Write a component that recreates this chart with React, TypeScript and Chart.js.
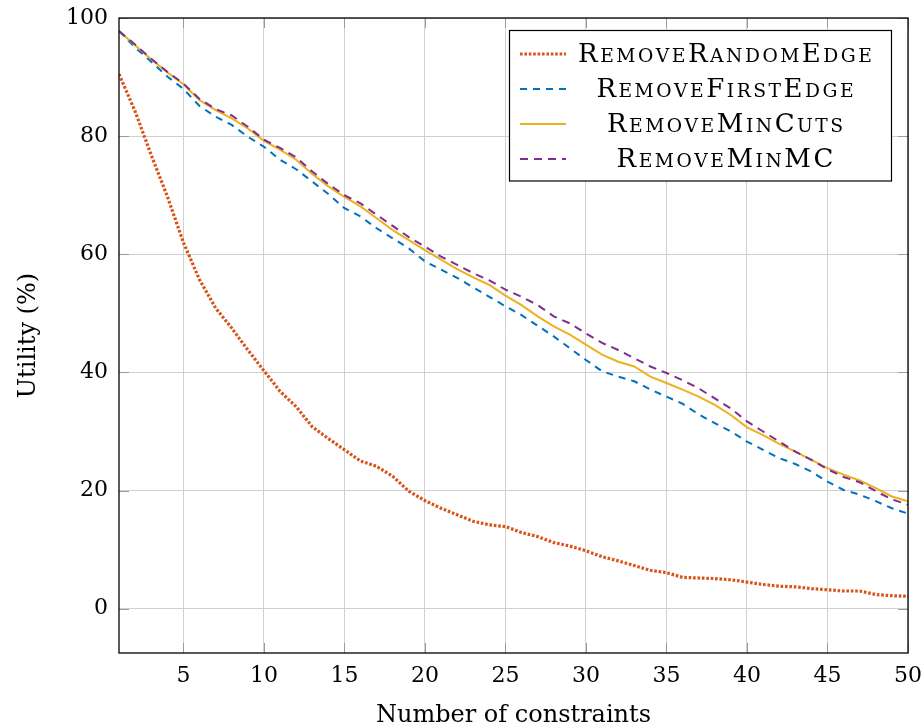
import React, { useEffect, useRef } from 'react';
import { Chart, registerables } from 'chart.js';

Chart.register(...registerables);

// ---------- data ----------
const constraints = [
  1, 2, 3, 4, 5, 6, 7, 8, 9, 10,
  11, 12, 13, 14, 15, 16, 17, 18, 19, 20,
  21, 22, 23, 24, 25, 26, 27, 28, 29, 30,
  31, 32, 33, 34, 35, 36, 37, 38, 39, 40,
  41, 42, 43, 44, 45, 46, 47, 48, 49, 50,
];

const removeRandomEdge = [
  90.5, 84.2, 76.8, 69.8, 62.0, 55.7, 50.9, 47.5, 43.8, 40.3,
  36.8, 34.2, 30.8, 28.8, 26.9, 25.0, 24.1, 22.4, 19.9, 18.3,
  17.0, 15.9, 14.8, 14.2, 13.9, 12.9, 12.2, 11.2, 10.6, 9.8,
  8.8, 8.1, 7.3, 6.5, 6.1, 5.3, 5.2, 5.1, 4.9, 4.5,
  4.1, 3.8, 3.7, 3.4, 3.2, 3.0, 3.0, 2.4, 2.2, 2.1,
];

const removeFirstEdge = [
  97.8, 95.0, 92.6, 90.1, 88.0, 85.1, 83.3, 81.9, 79.9, 78.2,
  76.0, 74.4, 72.3, 70.2, 67.8, 66.4, 64.4, 62.7, 61.0, 58.8,
  57.4, 56.0, 54.4, 52.8, 51.2, 49.7, 47.9, 46.1, 44.1, 42.1,
  40.2, 39.3, 38.5, 37.1, 35.9, 34.7, 32.9, 31.4, 30.0, 28.3,
  26.9, 25.5, 24.5, 23.2, 21.5, 20.1, 19.3, 18.2, 17.0, 16.1,
];

const removeMinCuts = [
  97.8, 95.4, 93.0, 90.8, 88.8, 86.1, 84.4, 83.0, 81.3, 79.2,
  77.7, 76.0, 73.6, 71.5, 69.7, 68.1, 66.1, 64.1, 62.4, 60.7,
  59.1, 57.5, 56.1, 54.8, 53.0, 51.4, 49.5, 47.8, 46.4, 44.7,
  43.0, 41.8, 41.0, 39.3, 38.2, 37.1, 35.9, 34.5, 32.8, 30.7,
  29.4, 27.9, 26.6, 25.2, 23.8, 22.7, 21.7, 20.4, 19.0, 18.2,
];

const removeMinMC = [
  97.8, 95.5, 93.1, 90.9, 88.9, 86.3, 84.6, 83.5, 81.6, 79.4,
  78.0, 76.4, 74.0, 71.9, 70.0, 68.6, 66.7, 64.8, 62.9, 61.3,
  59.6, 58.2, 56.8, 55.6, 54.0, 52.8, 51.4, 49.5, 48.3, 46.6,
  45.0, 43.8, 42.4, 41.0, 39.9, 38.7, 37.3, 35.6, 33.9, 31.7,
  30.0, 28.3, 26.6, 25.2, 23.6, 22.3, 21.4, 19.9, 18.5, 17.6,
];

const xTicks = [5, 10, 15, 20, 25, 30, 35, 40, 45, 50];
const yTicks = [0, 20, 40, 60, 80, 100];

const seriesNames = ['RemoveRandomEdge', 'RemoveFirstEdge', 'RemoveMinCuts', 'RemoveMinMC'];
const xTitle = 'Number of constraints';
const yTitle = 'Utility (%)';

// ---------- styles ----------
const COLORS = ['#D95319', '#0072BD', '#EDB120', '#7E2F8E'];
const WIDTHS = [3.2, 2, 2, 2];
const DASHES: number[][] = [[2.6, 1.8], [7, 6], [], [8, 6]];
const SERIF = '"DejaVu Serif", serif';

function toPoints(vals: number[]) {
  return constraints.map((c, i) => ({ x: c, y: vals[i] }));
}

function drawSmallCaps(ctx: CanvasRenderingContext2D, text: string, cx: number, baseline: number, size: number) {
  const ratio = 0.72;
  const spacing = 2.5;
  const parts = text.split('').map((ch) => {
    const lower = ch !== ch.toUpperCase();
    const s = lower ? size * ratio : size;
    ctx.font = `${s}px ${SERIF}`;
    const w = ctx.measureText(ch.toUpperCase()).width;
    return { ch: ch.toUpperCase(), s, w };
  });
  const total = parts.reduce((a, p) => a + p.w, 0) + spacing * (parts.length - 1);
  let x = cx - total / 2;
  ctx.textAlign = 'left';
  ctx.textBaseline = 'alphabetic';
  for (const p of parts) {
    ctx.font = `${p.s}px ${SERIF}`;
    ctx.fillText(p.ch, x, baseline);
    x += p.w + spacing;
  }
}

const decorPlugin = {
  id: 'decor',
  beforeDatasetsDraw(chart: any) {
    const { ctx, chartArea } = chart;
    const xs = chart.scales.x;
    const ys = chart.scales.y;
    const L = 10;
    ctx.save();
    ctx.strokeStyle = '#9a9a9a';
    ctx.lineWidth = 1;
    ctx.beginPath();
    for (const v of xTicks) {
      const px = Math.round(xs.getPixelForValue(v)) + 0.5;
      ctx.moveTo(px, chartArea.bottom);
      ctx.lineTo(px, chartArea.bottom - L);
      ctx.moveTo(px, chartArea.top);
      ctx.lineTo(px, chartArea.top + L);
    }
    for (const v of yTicks) {
      const py = Math.round(ys.getPixelForValue(v)) + 0.5;
      ctx.moveTo(chartArea.left, py);
      ctx.lineTo(chartArea.left + L, py);
      ctx.moveTo(chartArea.right, py);
      ctx.lineTo(chartArea.right - L, py);
    }
    ctx.stroke();
    ctx.restore();
  },
  afterDraw(chart: any) {
    const { ctx, chartArea } = chart;
    ctx.save();
    // frame
    ctx.strokeStyle = '#000';
    ctx.lineWidth = 1.3;
    ctx.strokeRect(chartArea.left, chartArea.top, chartArea.right - chartArea.left, chartArea.bottom - chartArea.top);

    // legend
    const bx = 509.5, by = 30.5, bw = 382, bh = 150.5;
    ctx.fillStyle = '#fff';
    ctx.fillRect(bx, by, bw, bh);
    ctx.strokeStyle = '#000';
    ctx.lineWidth = 1.2;
    ctx.strokeRect(bx, by, bw, bh);
    const rowY = [54, 89, 124, 159];
    const baseY = [62, 97, 132, 167];
    seriesNames.forEach((name, i) => {
      ctx.save();
      ctx.strokeStyle = COLORS[i];
      ctx.lineWidth = WIDTHS[i];
      ctx.setLineDash(DASHES[i]);
      ctx.lineCap = 'butt';
      ctx.beginPath();
      ctx.moveTo(520, rowY[i]);
      ctx.lineTo(566, rowY[i]);
      ctx.stroke();
      ctx.restore();
      ctx.fillStyle = '#000';
      drawSmallCaps(ctx, name, 725, baseY[i], 26);
    });

    // axis titles
    ctx.fillStyle = '#000';
    ctx.font = `24px ${SERIF}`;
    ctx.textAlign = 'center';
    ctx.textBaseline = 'alphabetic';
    ctx.fillText(xTitle, (chartArea.left + chartArea.right) / 2, 722);
    ctx.translate(35, (chartArea.top + chartArea.bottom) / 2);
    ctx.rotate(-Math.PI / 2);
    ctx.fillText(yTitle, 0, 0);
    ctx.restore();
  },
};

export default function App() {
  const ref = useRef<HTMLCanvasElement | null>(null);

  useEffect(() => {
    if (!ref.current) return;
    const datasets = [removeRandomEdge, removeFirstEdge, removeMinCuts, removeMinMC].map((vals, i) => ({
      label: seriesNames[i],
      data: toPoints(vals),
      borderColor: COLORS[i],
      backgroundColor: COLORS[i],
      borderWidth: WIDTHS[i],
      borderDash: DASHES[i],
      borderCapStyle: 'butt' as const,
      pointRadius: 0,
      tension: 0,
      fill: false,
      order: 4 - i,
    }));

    const chart = new Chart(ref.current, {
      type: 'line',
      data: { datasets },
      options: {
        animation: false,
        responsive: false,
        maintainAspectRatio: false,
        layout: { padding: { top: 18, right: 14, left: 0, bottom: 0 } },
        plugins: { legend: { display: false }, tooltip: { enabled: false } },
        scales: {
          x: {
            type: 'linear',
            min: 1,
            max: 50,
            afterBuildTicks: (s: any) => {
              s.ticks = xTicks.map((v) => ({ value: v }));
            },
            afterFit: (s: any) => {
              s.height = 74;
              s.paddingLeft = 0;
              s.paddingRight = 0;
              s.paddingTop = 0;
              s.paddingBottom = 0;
            },
            grid: { color: '#d0d0d0', lineWidth: 1, drawTicks: false },
            border: { display: false },
            ticks: {
              padding: 10,
              color: '#000',
              maxRotation: 0,
              autoSkip: false,
              font: { family: SERIF, size: 22 },
              callback: (v: any) => String(v),
            },
          },
          y: {
            type: 'linear',
            min: -7.5,
            max: 100,
            afterBuildTicks: (s: any) => {
              s.ticks = yTicks.map((v) => ({ value: v }));
            },
            afterFit: (s: any) => {
              s.width = 119;
              s.paddingLeft = 0;
              s.paddingRight = 0;
              s.paddingTop = 0;
              s.paddingBottom = 0;
            },
            grid: { color: '#d0d0d0', lineWidth: 1, drawTicks: false },
            border: { display: false },
            ticks: {
              padding: 11,
              color: '#000',
              autoSkip: false,
              font: { family: SERIF, size: 22 },
              callback: (v: any) => String(v),
            },
          },
        },
      },
      plugins: [decorPlugin],
    });
    return () => chart.destroy();
  }, []);

  return (
    <div style={{ position: 'absolute', left: 0, top: 0, width: 922, height: 727, background: '#fff' }}>
      <canvas ref={ref} width={922} height={727} style={{ width: 922, height: 727, display: 'block' }} />
    </div>
  );
}
